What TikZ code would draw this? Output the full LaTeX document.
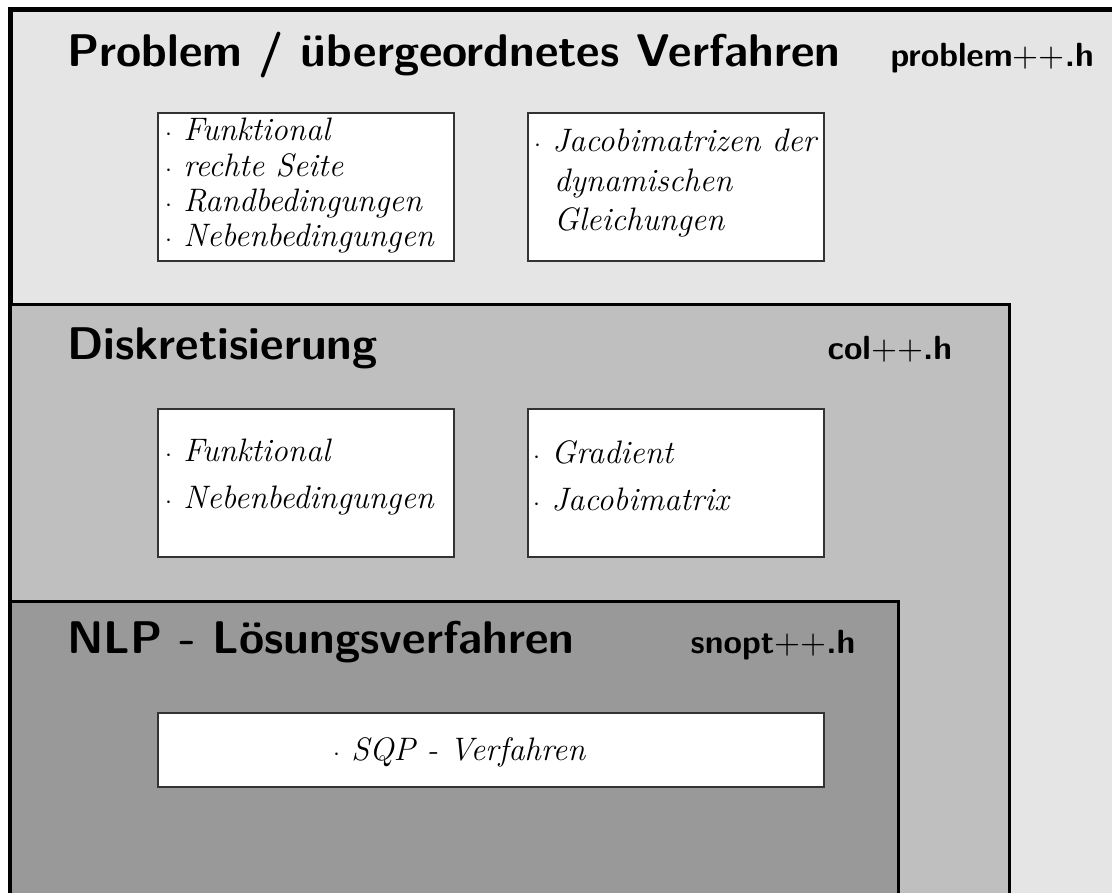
\documentclass[tikz,border=0pt]{standalone}
\definecolor{bgA}{gray}{0.898}
\definecolor{bgB}{gray}{0.75}
\definecolor{bgC}{gray}{0.60}
\definecolor{boxline}{gray}{0.2}
\begin{document}
\begin{tikzpicture}[x=1pt,y=-1pt,
  layerbox/.style={draw=black,line width=#1},
  itembox/.style={draw=boxline,fill=white,line width=1.3pt,anchor=north west,inner sep=0,outer sep=0},
  titletext/.style={font=\fontsize{45.8}{50}\selectfont\sffamily\bfseries,anchor=base west,inner sep=0},
  filetext/.style={font=\fontsize{10}{12}\selectfont\sffamily\bfseries,scale=3.35,anchor=base west,inner sep=0},
  itemtext/.style={font=\fontsize{32.5}{36}\selectfont\itshape,anchor=base west,inner sep=0}]
\useasboundingbox (0,0) rectangle (1112,893);
\clip (0,0) rectangle (1112,893);
% layers
\path[layerbox=5pt,fill=bgA] (10,9.5) rectangle (1140,920);
\path[layerbox=3pt,fill=bgB] (10,305) rectangle (1009,920);
\path[layerbox=3pt,fill=bgC] (10,601) rectangle (898,920);
% titles
\node[titletext] (t1) at (67,66.7) {Problem / übergeordnetes Verfahren};
\node[filetext] (f1) at (890,67) {problem{\mdseries ++}.h};
\node[titletext] (t2) at (67,360) {Diskretisierung};
\node[filetext] (f2) at (827,360) {col{\mdseries ++}.h};
\node[titletext] (t3) at (67,653) {NLP - Lösungsverfahren};
\node[filetext] (f3) at (690,653) {snopt{\mdseries ++}.h};
% white boxes
\node[itembox,minimum width=296,minimum height=148] (p1) at (158,113) {};
\node[itembox,minimum width=296,minimum height=148] (p2) at (528,113) {};
\node[itembox,minimum width=296,minimum height=148] (d1) at (158,409) {};
\node[itembox,minimum width=296,minimum height=148] (d2) at (528,409) {};
\node[itembox,minimum width=666,minimum height=74] (s1) at (158,713) {};
% texts
\node[itemtext] (p1a) at (165,141) {$\cdot$ Funktional};
\node[itemtext] (p1b) at (165,176.5) {$\cdot$ rechte Seite};
\node[itemtext] (p1c) at (165,211.7) {$\cdot$ Randbedingungen};
\node[itemtext] (p1d) at (165,246.7) {$\cdot$ Nebenbedingungen};
\node[itemtext] (p2a) at (534,151.7) {$\cdot$ Jacobimatrizen der};
\node[itemtext] (p2b) at (554,191.5) {dynamischen};
\node[itemtext] (p2c) at (554,231) {Gleichungen};
\node[itemtext] (d1a) at (165,461.7) {$\cdot$ Funktional};
\node[itemtext] (d1b) at (165,508.3) {$\cdot$ Nebenbedingungen};
\node[itemtext] (d2a) at (533,464) {$\cdot$ Gradient};
\node[itemtext] (d2b) at (533,510) {$\cdot$ Jacobimatrix};
\node[itemtext] (s1a) at (333,760) {$\cdot$ SQP - Verfahren};
\end{tikzpicture}
\end{document}
